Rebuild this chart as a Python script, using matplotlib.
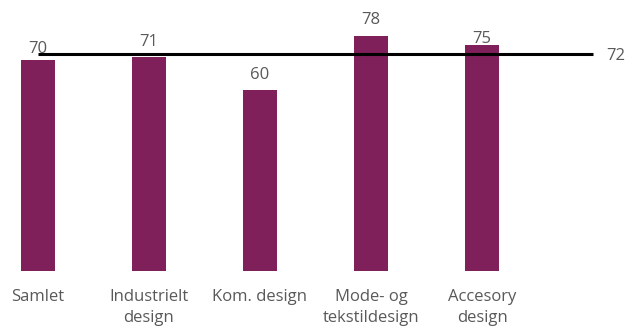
import matplotlib.pyplot as plt

categories = ['Samlet', 'Industrielt\ndesign', 'Kom. design', 'Mode- og\ntekstildesign', 'Accesory\ndesign']
values = [70, 71, 60, 78, 75]
average = 72

plt.rcParams['font.family'] = ['Open Sans', 'DejaVu Sans']

fig = plt.figure(figsize=(6.3, 3.29), dpi=100)
ax = fig.add_axes([0, 0, 1, 1])

x = list(range(len(categories)))
ax.bar(x, values, width=0.306, color='#80205B')

# value labels (a few sit lower, like in the original)
nudge = [7, 11, 11, 12, 2]
for xi, v, d in zip(x, values, nudge):
    ax.annotate(str(v), (xi, v), xytext=(0, d * 0.72), textcoords='offset points',
                ha='center', va='baseline', fontsize=12, color='#595959')

# average line
ax.plot([0, len(categories)], [average, average], color='black', lw=2.2, solid_capstyle='butt')
ax.annotate(str(average), (len(categories), average), xytext=(9.5, 0), textcoords='offset points',
            ha='left', va='center_baseline', fontsize=12, color='#595959')

for xi, c in zip(x, categories):
    ax.text(xi, -5.9, c, ha='center', va='top', fontsize=12, color='#595959', linespacing=1.45)

ax.set_xlim(-0.342, 5.333)
ax.set_ylim(-19.27, 90.03)
ax.axis('off')

fig.savefig('out.png', dpi=100)
